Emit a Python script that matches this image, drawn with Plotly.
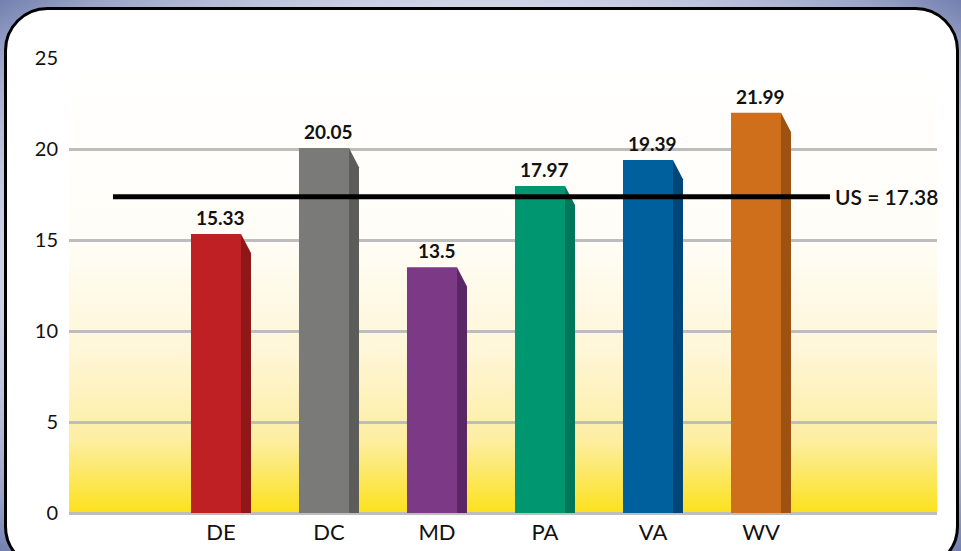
import plotly.graph_objects as go
import urllib.parse

# ---- data ----
states = ["DE", "DC", "MD", "PA", "VA", "WV"]
values = [15.33, 20.05, 13.5, 17.97, 19.39, 21.99]
value_labels = ["15.33", "20.05", "13.5", "17.97", "19.39", "21.99"]
us_value = 17.38
us_label = "US = 17.38"
y_ticks = [0, 5, 10, 15, 20, 25]

front_colors = ["#BE2023", "#7A7B79", "#7C3A86", "#00966F", "#00609E", "#CF6E1B"]
side_colors = ["#8F1717", "#5C5D5B", "#5A2766", "#00765A", "#004679", "#9E5212"]

# ---- geometry (in axis units) ----
W, H = 961, 551
L, R, T, B = 69, 24, 58, 38
half = 0.2315      # half width of bar front
depth = 0.0926     # width of side face
drop = 1.05        # drop of side top
x_range = [-1.361, 6.676]
y_range = [0, 25]

fig = go.Figure()
xs = list(range(len(states)))

for i, v in enumerate(values):
    fig.add_trace(go.Scatter(
        x=[xs[i] + half, xs[i] + half, xs[i] + half + depth, xs[i] + half + depth, xs[i] + half],
        y=[0, v, v - drop, 0, 0],
        mode="lines", fill="toself", fillcolor=side_colors[i],
        line=dict(width=0, color=side_colors[i]), hoverinfo="skip", showlegend=False))

fig.add_trace(go.Bar(x=xs, y=values, width=2 * half,
                     marker=dict(color=front_colors, line=dict(width=0)),
                     showlegend=False, hoverinfo="skip"))

# US average line
fig.add_trace(go.Scatter(x=[-0.954, 5.685], y=[us_value, us_value], mode="lines",
                         line=dict(color="#000000", width=5), showlegend=False,
                         hoverinfo="skip"))

annotations = []
for i, v in enumerate(values):
    annotations.append(dict(x=xs[i] + depth / 2, y=v, xref="x", yref="y",
                            text=value_labels[i], showarrow=False, yanchor="bottom",
                            yshift=3,
                            font=dict(family="Lato", size=19, color="#111111", weight=700)))
annotations.append(dict(x=5.685, y=us_value, xref="x", yref="y", text=us_label,
                        showarrow=False, xanchor="left", yanchor="middle", xshift=3,
                        font=dict(family="Lato", size=21, color="#111111", weight=600)))

# backgrounds
frame_svg = f"""<svg xmlns='http://www.w3.org/2000/svg' width='{W}' height='{H}' viewBox='0 0 {W} {H}' preserveAspectRatio='none'>
<defs><radialGradient id='g' cx='50%' cy='50%' r='75%'>
<stop offset='0%' stop-color='#ffffff'/><stop offset='60%' stop-color='#dfe2ee'/>
<stop offset='85%' stop-color='#9aa4c8'/><stop offset='100%' stop-color='#5a699f'/></radialGradient></defs>
<rect x='0' y='0' width='{W}' height='{H}' fill='url(#g)'/>
<rect x='5.5' y='8.5' width='952' height='560' rx='42' ry='42' fill='#ffffff' stroke='#000000' stroke-width='3'/>
</svg>"""
grad_svg = """<svg xmlns='http://www.w3.org/2000/svg' width='100' height='100' viewBox='0 0 100 100' preserveAspectRatio='none'>
<defs><linearGradient id='y' x1='0' y1='0' x2='0' y2='1'>
<stop offset='0%' stop-color='#ffffff'/><stop offset='40%' stop-color='#fffdf7'/>
<stop offset='65%' stop-color='#fef6d6'/><stop offset='84%' stop-color='#fdeea2'/>
<stop offset='100%' stop-color='#fce11c'/></linearGradient></defs>
<rect x='0' y='0' width='100' height='100' fill='url(#y)'/></svg>"""

def uri(s):
    return "data:image/svg+xml;charset=utf-8," + urllib.parse.quote(s)

pw, ph = W - L - R, H - T - B
images = [
    dict(source=uri(frame_svg), xref="paper", yref="paper", x=-L / pw, y=1 + T / ph,
         sizex=W / pw, sizey=H / ph, sizing="stretch", xanchor="left", yanchor="top",
         layer="below"),
    dict(source=uri(grad_svg), xref="x", yref="y", x=x_range[0], y=y_range[1],
         sizex=x_range[1] - x_range[0], sizey=y_range[1] - y_range[0], sizing="stretch",
         xanchor="left", yanchor="top", layer="below"),
]

fig.update_layout(
    width=W, height=H, margin=dict(l=L, r=R, t=T, b=B, autoexpand=False),
    paper_bgcolor="rgba(0,0,0,0)", plot_bgcolor="rgba(0,0,0,0)",
    images=images, annotations=annotations, showlegend=False,
    xaxis=dict(range=x_range, tickmode="array", automargin=False,
               tickvals=[x + depth / 2 for x in xs], ticktext=states,
               showgrid=False, zeroline=False, showline=False, ticks="",
               ticklabelstandoff=4,
               tickfont=dict(family="Lato", size=22, color="#111111")),
    yaxis=dict(range=y_range, tickmode="array", tickvals=y_ticks, automargin=False,
               ticktext=[str(t) for t in y_ticks],
               showgrid=True, gridcolor="#bdbdbd", gridwidth=3,
               zeroline=True, zerolinecolor="#bdbdbd", zerolinewidth=3,
               showline=False, ticks="", ticklabelstandoff=10,
               tickfont=dict(family="Lato", size=20, color="#111111")),
)

fig.write_html("out.html", config={"displayModeBar": False},
               post_script="document.body.style.margin='0';document.body.style.overflow='hidden';")
